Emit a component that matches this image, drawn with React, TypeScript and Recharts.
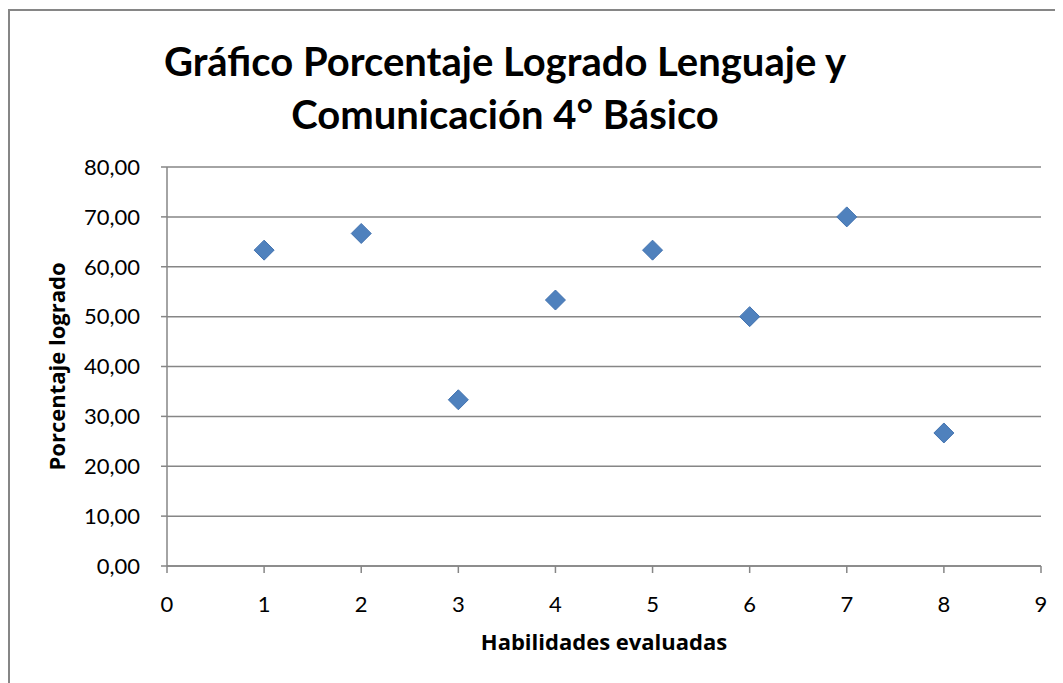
import { ScatterChart, Scatter, XAxis, YAxis, CartesianGrid, Label } from 'recharts'

const habilidades = [1, 2, 3, 4, 5, 6, 7, 8]
const porcentaje = [63.33, 66.67, 33.33, 53.33, 63.33, 50.0, 70.0, 26.67]
const xTicks = [0, 1, 2, 3, 4, 5, 6, 7, 8, 9]
const yTicks = [0, 10, 20, 30, 40, 50, 60, 70, 80]

const data = habilidades.map((h, i) => ({ x: h, y: porcentaje[i] }))

const font = 'Lato, "Open Sans", sans-serif'
const labelFont = '"Open Sans", Lato, sans-serif'
const gray = '#868686'

// rombo tipo Excel, centrado en el punto que calcula recharts
function Diamond(props: any) {
  const { cx, cy } = props
  const r = 10
  return (
    <polygon
      points={`${cx},${cy - r} ${cx + r},${cy} ${cx},${cy + r} ${cx - r},${cy}`}
      fill="#4F81BD"
      stroke="#4373B0"
      strokeWidth={1}
    />
  )
}

export default function App() {
  return (
    <div
      style={{
        position: 'relative',
        width: 1055,
        height: 674,
        marginTop: 1,
        borderLeft: `2px solid ${gray}`,
        borderTop: `2px solid ${gray}`,
        boxSizing: 'border-box',
        fontFamily: font,
      }}
    >
      <div
        style={{
          position: 'absolute',
          left: 0,
          top: 24,
          width: 990,
          textAlign: 'center',
          fontWeight: 700,
          fontSize: 40,
          lineHeight: '53px',
          color: '#000',
        }}
      >
        Gráfico Porcentaje Logrado Lenguaje y
        <br />
        Comunicación 4° Básico
      </div>
      <div style={{ position: 'absolute', left: -2, top: -2 }}>
        <ScatterChart
          width={1055}
          height={674}
          margin={{ top: 158, right: 22, bottom: 77, left: 79 }}
        >
          <CartesianGrid horizontal vertical={false} stroke={gray} strokeWidth={1.5} />
          <XAxis
            type="number"
            dataKey="x"
            domain={[0, 9]}
            ticks={xTicks}
            interval={0}
            height={40}
            tickSize={7}
            tickMargin={23}
            stroke={gray}
            strokeWidth={1.5}
            tick={{ fill: '#000', fontSize: 22, fontFamily: font }}
          >
            <Label
              value="Habilidades evaluadas"
              position="insideBottom"
              offset={-44}
              style={{ fontWeight: 700, fontSize: 22, fill: '#000', fontFamily: labelFont }}
            />
          </XAxis>
          <YAxis
            type="number"
            dataKey="y"
            domain={[0, 80]}
            ticks={yTicks}
            interval={0}
            width={80}
            tickSize={6}
            tickMargin={21}
            stroke={gray}
            strokeWidth={1.5}
            tickFormatter={(v: number) => v.toFixed(2).replace('.', ',')}
            tick={{ fill: '#000', fontSize: 22, fontFamily: font }}
          >
            <Label
              value="Porcentaje logrado"
              angle={-90}
              position="insideLeft"
              offset={-30}
              style={{ fontWeight: 700, fontSize: 22, fill: '#000', fontFamily: labelFont, textAnchor: 'middle' }}
            />
          </YAxis>
          <Scatter data={data} shape={<Diamond />} isAnimationActive={false} />
        </ScatterChart>
      </div>
    </div>
  )
}
